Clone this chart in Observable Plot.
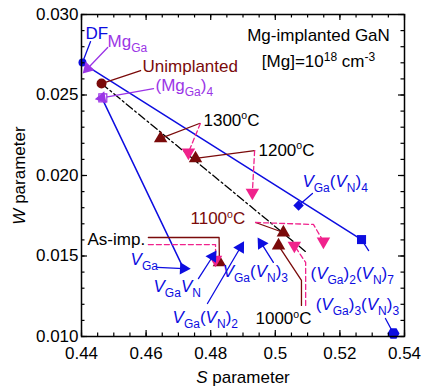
<!DOCTYPE html>
<html><head><meta charset="utf-8">
<script src="https://cdn.jsdelivr.net/npm/d3@7"></script>
<script src="https://cdn.jsdelivr.net/npm/@observablehq/plot@0.6"></script>
<style>
html,body{margin:0;padding:0;background:#fff;}
#chart{width:422px;height:388px;}
</style></head><body><div id="chart"></div>
<script>
// ---------- data ----------
const xMajor = [0.44, 0.46, 0.48, 0.50, 0.52, 0.54];
const yMajor = [0.010, 0.015, 0.020, 0.025, 0.030];
const xMinor = d3.range(0, 21).map(i => +(0.44 + i * 0.005).toFixed(3));
const yMinor = d3.range(0, 21).map(i => +(0.010 + i * 0.001).toFixed(3));

// calculated defect (S, W) points
const defectNames = ["DF", "MgGa", "(MgGa)4", "VGa", "VGaVN", "VGa(VN)2", "VGa(VN)3", "VGa(VN)4", "(VGa)2(VN)7", "(VGa)3(VN)3"];
const defectS = [0.4403, 0.4419, 0.4463, 0.4716, 0.4806, 0.4892, 0.4957, 0.5072, 0.5267, 0.5366];
const defectW = [0.02702, 0.02665, 0.02482, 0.01422, 0.01497, 0.01553, 0.01578, 0.01814, 0.01602, 0.01019];
// leader start (label side) for each defect
const defectLeadS = [0.4428, 0.4481, 0.4623, 0.4635, 0.4762, 0.4790, 0.4994, 0.5115, 0.5289, 0.5341];
const defectLeadW = [0.02832, 0.02795, 0.02540, 0.01429, 0.01360, 0.01205, 0.01460, 0.01888, 0.01534, 0.01112];

// unimplanted
const unimpS = [0.4462];
const unimpW = [0.02571];
const unimpLeadS = [0.4583];
const unimpLeadW = [0.02652];

// experimental: annealing temperature
const annealNames = ["1300", "1200", "1100", "1000", "As-imp."];
const redS = [0.4645, 0.4753, 0.5025, 0.5010, 0.4827];
const redW = [0.02230, 0.02106, 0.01646, 0.01565, 0.01460];
const pinkS = [0.4731, 0.4929, 0.5149, 0.5059, 0.4815];
const pinkW = [0.02143, 0.01894, 0.01590, 0.01565, 0.01478];
// leader polylines (before reaching the marker)
const redLeadS = [[0.4765], [0.4936], [0.4939], [0.5081, 0.5081], [0.4607, 0.4826]];
const redLeadW = [[0.02323], [0.02155], [0.01708], [0.01193, 0.01348], [0.01615, 0.01615]];
const pinkLeadS = [[0.4768], [0.4936], [0.4939, 0.5118], [0.5094, 0.5094], [0.4607, 0.4815]];
const pinkLeadW = [[0.02323], [0.02155], [0.01708, 0.01696], [0.01193, 0.01460], [0.01571, 0.01571]];

// connecting lines
const lineAS = [0.4428, 0.5267], lineAW = [0.02665, 0.01602];
const lineBS = [0.4463, 0.4716], lineBW = [0.02482, 0.01422];
const dashS = [0.4462, 0.5097], dashW = [0.02571, 0.01522];

// labels
const blueText = ["DF", "<i>V</i><sub>Ga</sub>", "<i>V</i><sub>Ga</sub><i>V</i><sub>N</sub>",
  "<i>V</i><sub>Ga</sub>(<i>V</i><sub>N</sub>)<sub>2</sub>", "<i>V</i><sub>Ga</sub>(<i>V</i><sub>N</sub>)<sub>3</sub>",
  "<i>V</i><sub>Ga</sub>(<i>V</i><sub>N</sub>)<sub>4</sub>", "(<i>V</i><sub>Ga</sub>)<sub>2</sub>(<i>V</i><sub>N</sub>)<sub>7</sub>",
  "(<i>V</i><sub>Ga</sub>)<sub>3</sub>(<i>V</i><sub>N</sub>)<sub>3</sub>"];
const blueS = [0.4412, 0.4552, 0.4623, 0.4682, 0.4837, 0.5084, 0.5109, 0.5125];
const blueW = [0.02879, 0.01478, 0.01311, 0.01118, 0.01404, 0.01963, 0.01391, 0.01199];
const purpleText = ["Mg<sub>Ga</sub>", "(Mg<sub>Ga</sub>)<sub>4</sub>"];
const purpleS = [0.44805, 0.46291];
const purpleW = [0.02829, 0.02559];
const redText = ["Unimplanted", "1100<sup>o</sup>C"];
const redTS = [0.45889, 0.47375];
const redTW = [0.02677, 0.01730];
const blackText = ["1300<sup>o</sup>C", "1200<sup>o</sup>C", "1000<sup>o</sup>C", "As-imp."];
const blackS = [0.47777, 0.4948, 0.49387, 0.44186];
const blackW = [0.02342, 0.02158, 0.01109, 0.01603];
const titleText = ["Mg-implanted GaN", "[Mg]=10<sup>18</sup> cm<sup>-3</sup>"];
const titleS = [0.51338, 0.51338];
const titleW = [0.02870, 0.02708];

// ---------- layout & style ----------
const WIDTH = 422, HEIGHT = 388;
const mL = 81, mR = 18, mT = 14, mB = 52;
const FONT = "'Liberation Sans', Arial, Helvetica, sans-serif";
const FS = 17, SMALL = 12, SUB = 5, SUP = 6;
const BLUE = "#0d0de0", PURPLE = "#9b35e6", DARKRED = "#7a0a0a", PINK = "#f0228c";

const xs = d3.scaleLinear([0.44, 0.54], [mL, WIDTH - mR]);
const ys = d3.scaleLinear([0.010, 0.030], [HEIGHT - mB, mT]);
const angle = (s1, w1, s2, w2) => Math.atan2(xs(s2) - xs(s1), -(ys(w2) - ys(w1))) * 180 / Math.PI;

// build tables
const rows = (S, W, id) => S.map((s, k) => ({S: s, W: W[k], id}));
const mainLines = [...rows(lineAS, lineAW, "A"), ...rows(lineBS, lineBW, "B")];
const dashLine = rows(dashS, dashW, "D");
const defectIdx = defectNames.map((_, i) => i);
const defectLeaders = defectIdx.flatMap(i => [
  {S: defectLeadS[i], W: defectLeadW[i], id: i}, {S: defectS[i], W: defectW[i], id: i}]);
const unimpLeader = [{S: unimpLeadS[0], W: unimpLeadW[0], id: 0}, {S: unimpS[0], W: unimpW[0], id: 0}];
const redLeaders = annealNames.flatMap((n, i) => [...rows(redLeadS[i], redLeadW[i], i), {S: redS[i], W: redW[i], id: i}]);
const pinkLeaders = annealNames.flatMap((n, i) => [...rows(pinkLeadS[i], pinkLeadW[i], i), {S: pinkS[i], W: pinkW[i], id: i}]);
const heads = [1, 2, 3, 4, 5, 6];
const headRot = i => angle(defectLeadS[i], defectLeadW[i], defectS[i], defectW[i]);
const annealIdx = annealNames.map((_, i) => i);

const txt = (T, S, W, opts) => Plot.text(T.map((t, i) => i), {
  x: i => S[i], y: i => W[i], text: i => T[i], fontSize: FS, lineAnchor: "middle", textAnchor: "start", ...opts});

// inward tick marks (lengths in pixels, converted through the scales)
const [x0, x1] = [0.44, 0.54], [y0, y1] = [0.010, 0.030];
const tickXB = len => ys.invert(ys(y0) - len), tickXT = len => ys.invert(ys(y1) + len);
const tickYL = len => xs.invert(xs(x0) + len), tickYR = len => xs.invert(xs(x1) - len);
const tickMarks = [
  Plot.ruleX(xMajor, {x: d => d, y1: y0, y2: tickXB(6), stroke: "black", strokeWidth: 1.2}),
  Plot.ruleX(xMajor, {x: d => d, y1: y1, y2: tickXT(6), stroke: "black", strokeWidth: 1.2}),
  Plot.ruleX(xMinor, {x: d => d, y1: y0, y2: tickXB(3.5), stroke: "black", strokeWidth: 1.2}),
  Plot.ruleX(xMinor, {x: d => d, y1: y1, y2: tickXT(3.5), stroke: "black", strokeWidth: 1.2}),
  Plot.ruleY(yMajor, {y: d => d, x1: x0, x2: tickYL(6), stroke: "black", strokeWidth: 1.2}),
  Plot.ruleY(yMajor, {y: d => d, x1: x1, x2: tickYR(6), stroke: "black", strokeWidth: 1.2}),
  Plot.ruleY(yMinor, {y: d => d, x1: x0, x2: tickYL(3.5), stroke: "black", strokeWidth: 1.2}),
  Plot.ruleY(yMinor, {y: d => d, x1: x1, x2: tickYR(3.5), stroke: "black", strokeWidth: 1.2})
];

const chart = Plot.plot({
  width: WIDTH, height: HEIGHT,
  marginLeft: mL, marginRight: mR, marginTop: mT, marginBottom: mB,
  style: {fontFamily: FONT, fontSize: "17px", background: "white", color: "black", overflow: "visible"},
  x: {domain: [x0, x1]},
  y: {domain: [y0, y1]},
  marks: [
    Plot.line(mainLines, {x: "S", y: "W", z: "id", stroke: BLUE, strokeWidth: 1.5}),
    Plot.line(dashLine, {x: "S", y: "W", z: "id", stroke: "black", strokeWidth: 1.3, strokeDasharray: "8,3,2,3"}),
    Plot.line(defectLeaders, {x: "S", y: "W", z: "id", stroke: d => (d.id === 1 || d.id === 2) ? PURPLE : BLUE, strokeWidth: 1.3}),
    Plot.line(unimpLeader, {x: "S", y: "W", z: "id", stroke: DARKRED, strokeWidth: 1.3}),
    Plot.line(redLeaders, {x: "S", y: "W", z: "id", stroke: DARKRED, strokeWidth: 1.3}),
    Plot.line(pinkLeaders, {x: "S", y: "W", z: "id", stroke: PINK, strokeWidth: 1.3, strokeDasharray: "5,3"}),
    // experimental markers
    Plot.dot(annealIdx, {x: i => redS[i], y: i => redW[i], symbol: "triangle", r: 5, fill: DARKRED}),
    Plot.dot(annealIdx, {x: i => pinkS[i], y: i => pinkW[i], symbol: "triangle", rotate: 180, r: 5, fill: PINK}),
    // calculated markers
    Plot.dot([0], {x: i => defectS[i], y: i => defectW[i], r: 4, fill: BLUE}),
    Plot.dot([2], {x: i => defectS[i] + 0.0003, y: i => defectW[i], symbol: "square", r: 4.5, fill: "white", stroke: PURPLE, strokeWidth: 1.2}),
    Plot.dot(heads, {x: i => defectS[i], y: i => defectW[i], symbol: "triangle", r: 4.6,
      rotate: headRot, fill: i => i <= 2 ? PURPLE : BLUE}),
    Plot.dot([7], {x: i => defectS[i], y: i => defectW[i], symbol: "square", rotate: 45, r: 4.2, fill: BLUE}),
    Plot.dot([8], {x: i => defectS[i], y: i => defectW[i], symbol: "square", r: 5.1, fill: BLUE}),
    Plot.dot([9], {x: i => defectS[i], y: i => defectW[i], symbol: "hexagon", rotate: 90, r: 5.2, fill: BLUE}),
    Plot.dot([0], {x: i => unimpS[i], y: i => unimpW[i], r: 5, fill: DARKRED}),
    // labels
    txt(blueText, blueS, blueW, {fill: BLUE}),
    txt(purpleText, purpleS, purpleW, {fill: PURPLE}),
    txt(redText, redTS, redTW, {fill: DARKRED}),
    txt(blackText, blackS, blackW, {fill: "black"}),
    txt(titleText, titleS, titleW, {fill: "black", textAnchor: "middle"}),
    // axes
    Plot.axisX(xMajor, {anchor: "bottom", tickSize: 0, tickPadding: 10, fontSize: FS, label: null, tickFormat: d3.format("~g")}),
    Plot.axisY(yMajor, {anchor: "left", tickSize: 0, tickPadding: 3, fontSize: FS, label: null, tickFormat: d3.format(".3f")}),
    ...tickMarks,
    Plot.text(["<i>S</i> parameter"], {frameAnchor: "bottom", dy: 41, text: d => d, fontSize: FS, lineAnchor: "middle", textAnchor: "middle"}),
    Plot.text(["<i>W</i> parameter"], {frameAnchor: "left", dx: -62, rotate: -90, text: d => d, fontSize: FS, lineAnchor: "middle", textAnchor: "middle"}),
    Plot.frame({stroke: "black", strokeWidth: 1.5})
  ]
});

// rich text: italics, subscripts, superscripts
function richify(svg) {
  const ns = "http://www.w3.org/2000/svg";
  svg.querySelectorAll("text").forEach(t => {
    const s = t.textContent;
    if (!s || s.indexOf("<") < 0) return;
    while (t.firstChild) t.removeChild(t.firstChild);
    const re = /<(\/?)(i|sub|sup)>|([^<]+)/g;
    let m, ital = false, mode = "n", cur = 0;
    while ((m = re.exec(s))) {
      if (m[2]) {
        const on = !m[1];
        if (m[2] === "i") ital = on; else mode = on ? m[2] : "n";
        continue;
      }
      const ts = document.createElementNS(ns, "tspan");
      const isDeg = mode === "sup" && m[3] === "o";
      const target = mode === "sub" ? SUB : mode === "sup" ? -(isDeg ? 6.5 : SUP) : 0;
      if (target !== cur) { ts.setAttribute("dy", target - cur); cur = target; }
      if (mode !== "n") ts.setAttribute("font-size", isDeg ? 10.5 : SMALL);
      if (ital) ts.setAttribute("font-style", "italic");
      ts.textContent = m[3];
      t.appendChild(ts);
    }
  });
}
richify(chart);
document.getElementById("chart").appendChild(chart);
</script>
</body></html>
